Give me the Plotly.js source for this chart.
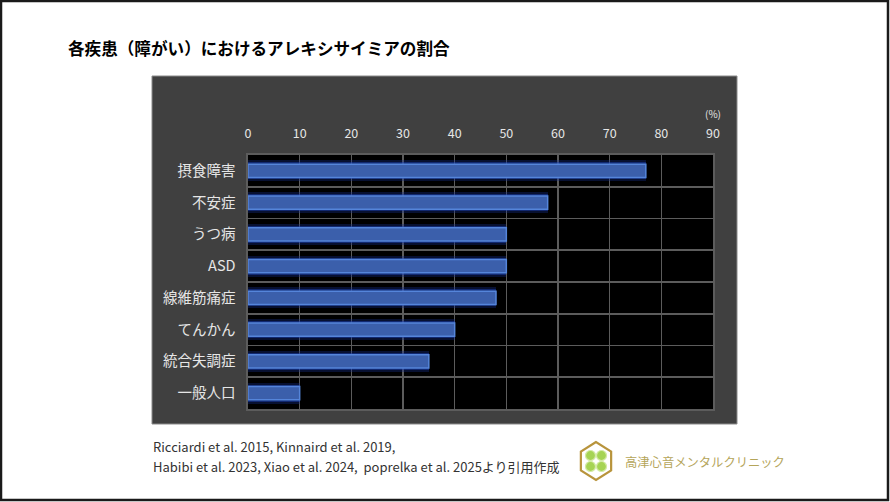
<!DOCTYPE html>
<html>
<head>
<meta charset="utf-8">
<script src="https://cdn.plot.ly/plotly-3.0.1.min.js"></script>
<style>
html,body{margin:0;padding:0;background:#fff;}
#chart{width:890px;height:502px;}
</style>
</head>
<body>
<div id="chart"></div>
<script>
// ---- data ----
const categories = ["摂食障害", "不安症", "うつ病", "ASD", "線維筋痛症", "てんかん", "統合失調症", "一般人口"];
const values = [77, 58, 50, 50, 48, 40, 35, 10];
const xTickVals = [0, 10, 20, 30, 40, 50, 60, 70, 80, 90];
const titleText = "各疾患（障がい）におけるアレキシサイミアの割合";
const sourceLines = ["Ricciardi et al. 2015, Kinnaird et al. 2019,", "Habibi et al. 2023, Xiao et al. 2024,  poprelka et al. 2025より引用作成"];
const clinicName = "高津心音メンタルクリニック";

// ---- layout geometry (pixels) ----
const W = 890, H = 502;
const PL = 248, PR = 713, PT = 155, PB = 409;
const px = v => (v - PL) / (PR - PL);
const py = v => (PB - v) / (PB - PT);
const jp = '"Noto Sans CJK JP", "Noto Sans", sans-serif';
const gridC = '#5c5c5c';

const glow1 = {
  type: 'bar', orientation: 'h', y: categories, x: values, width: 0.66,
  marker: {color: 'rgba(20,45,140,0.35)', line: {width: 0}}, hoverinfo: 'skip', showlegend: false
};
const glow2 = {
  type: 'bar', orientation: 'h', y: categories, x: values, width: 0.54,
  marker: {color: 'rgba(30,70,190,0.45)', line: {width: 0}}, hoverinfo: 'skip', showlegend: false
};
const main = {
  type: 'bar', orientation: 'h', y: categories, x: values, width: 0.42,
  marker: {color: '#3b5fab', line: {color: '#5585da', width: 1.5}}, showlegend: false
};

// hexagon logo path
const cx = 596, cy = 461, r = 19;
let hex = '';
for (let i = 0; i < 6; i++) {
  const a = Math.PI / 180 * (90 + 60 * i);
  const X = px(cx + r * Math.cos(a) * 0.92), Y = py(cy - r * Math.sin(a));
  hex += (i === 0 ? 'M' : 'L') + X + ',' + Y + ' ';
}
hex += 'Z';

const shapes = [
  // outer frame
  {type: 'rect', xref: 'paper', yref: 'paper', x0: px(1), x1: px(888), y0: py(500), y1: py(1),
   line: {color: '#1a1a1a', width: 2.5}, layer: 'below'},
  // dark panel
  {type: 'rect', xref: 'paper', yref: 'paper', x0: px(152), x1: px(737), y0: py(424), y1: py(76),
   fillcolor: '#404040', line: {color: '#8a8a8a', width: 1}, layer: 'below'},
  // plot area
  {type: 'rect', xref: 'paper', yref: 'paper', x0: 0, x1: 1, y0: 0, y1: 1,
   fillcolor: '#000000', line: {width: 0}, layer: 'below'},
  // logo hexagon
  {type: 'path', xref: 'paper', yref: 'paper', path: hex, line: {color: '#b8943c', width: 2.2}},
];
// clover leaves
[[-5.5,-5.5],[5.5,-5.5],[-5.5,5.5],[5.5,5.5]].forEach(function(d){
  shapes.push({type: 'circle', xref: 'paper', yref: 'paper',
    x0: px(cx + d[0] - 5), x1: px(cx + d[0] + 5), y0: py(cy + d[1] + 5), y1: py(cy + d[1] - 5),
    fillcolor: '#a6d454', line: {color: '#d4eaa6', width: 1.2}});
});

const annotations = [
  {text: '<b>' + titleText + '</b>', xref: 'paper', yref: 'paper', x: px(66), y: py(48),
   xanchor: 'left', yanchor: 'middle', showarrow: false, font: {family: jp, size: 16.6, color: '#000'}},
  {text: '(%)', xref: 'paper', yref: 'paper', x: px(713), y: py(113),
   xanchor: 'center', yanchor: 'middle', showarrow: false, font: {family: jp, size: 10, color: '#e6e6e6'}},
  {text: sourceLines[0], xref: 'paper', yref: 'paper', x: px(151), y: py(446),
   xanchor: 'left', yanchor: 'middle', align: 'left', showarrow: false,
   font: {family: jp, size: 13, color: '#333333'}},
  {text: sourceLines[1], xref: 'paper', yref: 'paper', x: px(151), y: py(466),
   xanchor: 'left', yanchor: 'middle', align: 'left', showarrow: false,
   font: {family: jp, size: 13, color: '#333333'}},
  {text: clinicName, xref: 'paper', yref: 'paper', x: px(623), y: py(462),
   xanchor: 'left', yanchor: 'middle', showarrow: false, font: {family: jp, size: 12.3, color: '#b5a55a'}},
];

const layout = {
  width: W, height: H,
  margin: {l: PL, r: W - PR, t: PT, b: H - PB, pad: 0},
  paper_bgcolor: '#ffffff', plot_bgcolor: 'rgba(0,0,0,0)',
  barmode: 'overlay', bargap: 0,
  xaxis: {
    side: 'top', range: [0, 90], tickvals: xTickVals, ticktext: xTickVals.map(String),
    showgrid: true, gridcolor: gridC, gridwidth: 1.6, zeroline: false,
    showline: true, linecolor: gridC, linewidth: 1.6, mirror: true,
    ticks: '', ticklabelstandoff: 10,
    tickfont: {family: jp, size: 12.5, color: '#e6e6e6'}, fixedrange: true
  },
  yaxis: {
    type: 'category', categoryorder: 'array', categoryarray: categories, autorange: 'reversed',
    tickson: 'boundaries', showgrid: true, gridcolor: gridC, gridwidth: 1.6,
    showline: true, linecolor: gridC, linewidth: 1.6, mirror: true,
    ticks: '', ticklabelstandoff: 8,
    tickfont: {family: jp, size: 14.5, color: '#e6e6e6'}, fixedrange: true
  },
  shapes: shapes,
  annotations: annotations,
  showlegend: false
};

Plotly.newPlot('chart', [glow1, glow2, main], layout, {displayModeBar: false, staticPlot: true});
</script>
</body>
</html>
